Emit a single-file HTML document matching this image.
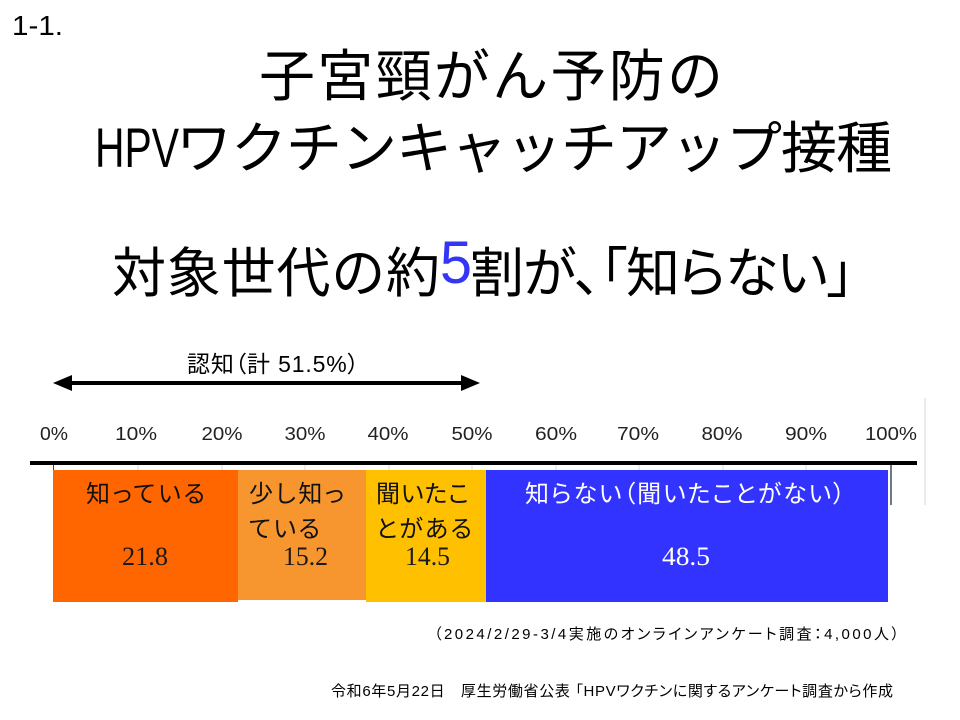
<!DOCTYPE html>
<html>
<head>
<meta charset="utf-8">
<style>
  html,body{margin:0;padding:0;background:#fff;}
  svg{display:block;}
  .jp{font-family:"Liberation Sans","Noto Sans CJK JP",sans-serif;font-feature-settings:"palt";}
  .jpf{font-family:"Liberation Sans","Noto Sans CJK JP",sans-serif;}
  .num{font-family:"Liberation Serif",serif;}
  .lat{font-family:"Liberation Sans",sans-serif;}
</style>
</head>
<body>
<svg width="960" height="720" viewBox="0 0 960 720" xmlns="http://www.w3.org/2000/svg">
  <rect x="0" y="0" width="960" height="720" fill="#fff"/>

  <!-- slide number -->
  <text class="lat" x="12" y="35" font-size="28" fill="#000" textLength="51" lengthAdjust="spacingAndGlyphs">1-1.</text>

  <!-- title -->
  <text class="jpf" x="259" y="96" font-size="56" fill="#000" textLength="464" lengthAdjust="spacing">子宮頸がん予防の</text>
  <text class="lat" x="95" y="167" font-size="56" fill="#000" textLength="84" lengthAdjust="spacingAndGlyphs">HPV</text>
  <text class="jpf" x="176" y="168" font-size="56" fill="#000" textLength="716" lengthAdjust="spacing">ワクチンキャッチアップ接種</text>

  <!-- subtitle -->
  <text class="jpf" x="112" y="292" font-size="54" fill="#000" textLength="328" lengthAdjust="spacing">対象世代の約</text>
  <text class="lat" x="440" y="283" font-size="60" fill="#3535F5" textLength="32" lengthAdjust="spacingAndGlyphs">5</text>
  <text class="jp" x="470" y="292" font-size="54" fill="#000" textLength="384" lengthAdjust="spacing">割が、「知らない」</text>

  <!-- recognition label + arrow -->
  <text class="jp" x="187" y="372" font-size="23" fill="#000" textLength="172" lengthAdjust="spacing">認知（計 51.5%）</text>
  <line x1="66" y1="383" x2="467" y2="383" stroke="#000" stroke-width="4"/>
  <polygon points="53,383 72,375 72,391" fill="#000"/>
  <polygon points="480,383 461,375 461,391" fill="#000"/>

  <!-- faint frame line on right -->
  <line x1="925" y1="398" x2="925" y2="505" stroke="#e4e4e4" stroke-width="1.5"/>

  <!-- tick labels -->
  <g class="lat" font-size="18" fill="#222" text-anchor="middle">
    <text x="54" y="440" textLength="28" lengthAdjust="spacingAndGlyphs">0%</text>
    <text x="136" y="440" textLength="42" lengthAdjust="spacingAndGlyphs">10%</text>
    <text x="222" y="440" textLength="41" lengthAdjust="spacingAndGlyphs">20%</text>
    <text x="305" y="440" textLength="41" lengthAdjust="spacingAndGlyphs">30%</text>
    <text x="388" y="440" textLength="41" lengthAdjust="spacingAndGlyphs">40%</text>
    <text x="472" y="440" textLength="41" lengthAdjust="spacingAndGlyphs">50%</text>
    <text x="556" y="440" textLength="42" lengthAdjust="spacingAndGlyphs">60%</text>
    <text x="638" y="440" textLength="42" lengthAdjust="spacingAndGlyphs">70%</text>
    <text x="722" y="440" textLength="41" lengthAdjust="spacingAndGlyphs">80%</text>
    <text x="806" y="440" textLength="42" lengthAdjust="spacingAndGlyphs">90%</text>
    <text x="891" y="440" textLength="52" lengthAdjust="spacingAndGlyphs">100%</text>
  </g>

  <!-- axis line -->
  <rect x="30" y="461" width="887" height="4" fill="#000"/>
  <g stroke="#d8d8d8" stroke-width="1">
    <line x1="138" y1="465" x2="138" y2="470"/>
    <line x1="222" y1="465" x2="222" y2="470"/>
    <line x1="305" y1="465" x2="305" y2="470"/>
    <line x1="389" y1="465" x2="389" y2="470"/>
    <line x1="472" y1="465" x2="472" y2="470"/>
    <line x1="556" y1="465" x2="556" y2="470"/>
    <line x1="639" y1="465" x2="639" y2="470"/>
    <line x1="723" y1="465" x2="723" y2="470"/>
    <line x1="806" y1="465" x2="806" y2="470"/>
  </g>
  <line x1="53.5" y1="465" x2="53.5" y2="470" stroke="#444" stroke-width="1"/>
  <line x1="891" y1="465" x2="891" y2="505" stroke="#6a7a88" stroke-width="2"/>

  <!-- bars -->
  <rect x="53" y="470" width="185" height="132" fill="#FF6600"/>
  <rect x="238" y="470" width="128" height="130" fill="#F7962F"/>
  <rect x="366" y="470" width="120" height="132" fill="#FFC000"/>
  <rect x="486" y="470" width="402" height="132" fill="#3333FF"/>

  <!-- bar labels -->
  <g class="jp" font-size="24" fill="#111">
    <text x="86" y="502" textLength="119" lengthAdjust="spacing">知っている</text>
    <text x="249" y="502" textLength="95" lengthAdjust="spacing">少し知っ</text>
    <text x="249" y="537" textLength="71" lengthAdjust="spacing">ている</text>
    <text x="376" y="502" textLength="93" lengthAdjust="spacing">聞いたこ</text>
    <text x="376" y="537" textLength="96" lengthAdjust="spacing">とがある</text>
  </g>
  <text class="jp" x="525" y="502" font-size="24" fill="#fff" textLength="320" lengthAdjust="spacing">知らない（聞いたことがない）</text>

  <!-- values -->
  <g class="num" font-size="26" fill="#1a1a1a">
    <text x="122" y="565" textLength="46" lengthAdjust="spacingAndGlyphs">21.8</text>
    <text x="283" y="565" textLength="45" lengthAdjust="spacingAndGlyphs">15.2</text>
    <text x="405" y="565" textLength="45" lengthAdjust="spacingAndGlyphs">14.5</text>
  </g>
  <text class="num" x="662" y="565" font-size="26" fill="#fff" textLength="48" lengthAdjust="spacingAndGlyphs">48.5</text>

  <!-- notes -->
  <text class="jp" x="434" y="639" font-size="15" fill="#000" textLength="465" lengthAdjust="spacing">（2024/2/29-3/4実施のオンラインアンケート調査：4,000人）</text>
  <text class="jp" x="331" y="696" font-size="15" fill="#000" textLength="562" lengthAdjust="spacing">令和6年5月22日　厚生労働省公表 「HPVワクチンに関するアンケート調査から作成</text>
</svg>
</body>
</html>
